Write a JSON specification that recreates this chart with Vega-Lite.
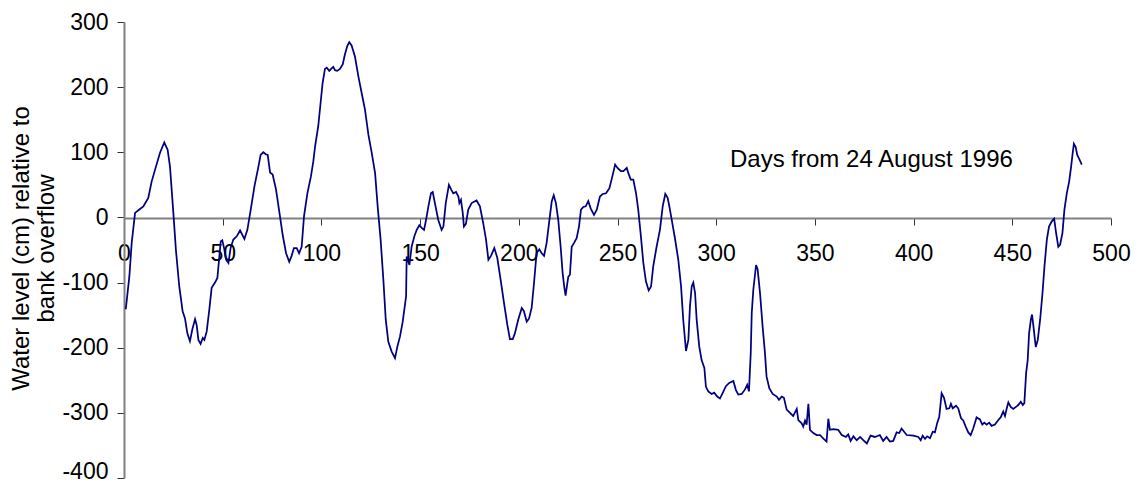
{
  "$schema": "https://vega.github.io/schema/vega-lite/v6.json",
  "width": 987,
  "height": 456,
  "autosize": "none",
  "padding": {"left": 124, "top": 22, "right": 26, "bottom": 7},
  "background": "white",
  "config": {"view": {"stroke": null}, "font": "Liberation Sans"},
  "layer": [
    {
      "data": {"values": [
        {"day":0.9,"level":-141},{"day":2.7,"level":-91},{"day":3.9,"level":-39},{"day":5.6,"level":7},{"day":8.1,"level":13},{"day":9.8,"level":17},{"day":12.3,"level":30},{"day":14,"level":55},{"day":15.7,"level":73},{"day":18.2,"level":99},{"day":20.4,"level":115},{"day":22.1,"level":104},{"day":23.3,"level":78},{"day":25,"level":7},{"day":26.3,"level":-50},{"day":28,"level":-106},{"day":29.7,"level":-144},{"day":30.9,"level":-155},{"day":32.1,"level":-178},{"day":33.4,"level":-190},{"day":34.6,"level":-172},{"day":36,"level":-156},{"day":36.8,"level":-165},{"day":37.7,"level":-188},{"day":38.8,"level":-194},{"day":39.9,"level":-185},{"day":40.7,"level":-188},{"day":41.9,"level":-175},{"day":43.2,"level":-142},{"day":44.4,"level":-108},{"day":46.1,"level":-100},{"day":47.3,"level":-93},{"day":48.3,"level":-60},{"day":49,"level":-37},{"day":49.8,"level":-35},{"day":50.7,"level":-47},{"day":51.7,"level":-65},{"day":52.9,"level":-70},{"day":54,"level":-47},{"day":55.4,"level":-34},{"day":57.1,"level":-29},{"day":58.8,"level":-20},{"day":61,"level":-33},{"day":62.5,"level":-19},{"day":64.2,"level":12},{"day":66.1,"level":48},{"day":68.1,"level":78},{"day":69.2,"level":96},{"day":70.6,"level":100},{"day":71.8,"level":97},{"day":72.8,"level":96},{"day":74,"level":69},{"day":75.3,"level":66},{"day":77,"level":43},{"day":79,"level":2},{"day":80.4,"level":-27},{"day":82.1,"level":-55},{"day":83.7,"level":-68},{"day":84.9,"level":-59},{"day":86.1,"level":-47},{"day":87.5,"level":-47},{"day":88.7,"level":-55},{"day":90,"level":-45},{"day":91.2,"level":2},{"day":92.9,"level":37},{"day":94.7,"level":63},{"day":95.9,"level":86},{"day":96.8,"level":109},{"day":98.4,"level":140},{"day":99.6,"level":176},{"day":100.6,"level":206},{"day":101.8,"level":228},{"day":102.7,"level":230},{"day":104,"level":225},{"day":104.9,"level":228},{"day":106,"level":231},{"day":106.9,"level":226},{"day":108,"level":225},{"day":109.4,"level":228},{"day":110.8,"level":235},{"day":111.9,"level":250},{"day":113.1,"level":263},{"day":114.1,"level":269},{"day":115.3,"level":264},{"day":117,"level":247},{"day":118.7,"level":217},{"day":120.4,"level":191},{"day":122.1,"level":165},{"day":123.8,"level":127},{"day":125.5,"level":99},{"day":127.2,"level":68},{"day":128.5,"level":17},{"day":130,"level":-34},{"day":131.4,"level":-96},{"day":132.6,"level":-157},{"day":133.9,"level":-191},{"day":135.6,"level":-206},{"day":137.3,"level":-216},{"day":138.5,"level":-198},{"day":139.8,"level":-183},{"day":141.2,"level":-160},{"day":142.9,"level":-121},{"day":143.2,"level":-60},{"day":144.6,"level":-73},{"day":145.7,"level":-45},{"day":147.1,"level":-29},{"day":148.3,"level":-19},{"day":149.6,"level":-12},{"day":150.8,"level":-16},{"day":152,"level":-19},{"day":153,"level":-4},{"day":154.2,"level":17},{"day":155.5,"level":37},{"day":156.4,"level":39},{"day":157.5,"level":22},{"day":159.2,"level":-4},{"day":160.9,"level":-19},{"day":161.8,"level":-14},{"day":163,"level":22},{"day":164.6,"level":50},{"day":165.7,"level":43},{"day":166.8,"level":37},{"day":168.2,"level":39},{"day":169.4,"level":32},{"day":169.9,"level":22},{"day":170.7,"level":27},{"day":171.6,"level":7},{"day":172.2,"level":-14},{"day":173.2,"level":-10},{"day":174.4,"level":12},{"day":176.1,"level":22},{"day":178.6,"level":26},{"day":180.3,"level":17},{"day":182,"level":-9},{"day":183.4,"level":-34},{"day":184.6,"level":-65},{"day":185.9,"level":-59},{"day":187.6,"level":-47},{"day":189.1,"level":-62},{"day":190.8,"level":-96},{"day":192.5,"level":-131},{"day":194.2,"level":-165},{"day":195.5,"level":-187},{"day":196.9,"level":-187},{"day":198,"level":-178},{"day":199.7,"level":-157},{"day":201.5,"level":-139},{"day":202.6,"level":-144},{"day":204,"level":-160},{"day":205.2,"level":-155},{"day":206.5,"level":-139},{"day":207.7,"level":-101},{"day":209,"level":-55},{"day":210.4,"level":-49},{"day":211.6,"level":-55},{"day":212.8,"level":-59},{"day":214.1,"level":-39},{"day":215.5,"level":-4},{"day":216.7,"level":25},{"day":217.7,"level":34},{"day":218.8,"level":22},{"day":220,"level":-4},{"day":221.2,"level":-45},{"day":222.2,"level":-85},{"day":223,"level":-106},{"day":223.7,"level":-120},{"day":224.6,"level":-101},{"day":225.1,"level":-91},{"day":225.9,"level":-88},{"day":226.8,"level":-45},{"day":228,"level":-39},{"day":229.3,"level":-32},{"day":230.5,"level":-14},{"day":231.5,"level":12},{"day":232.7,"level":16},{"day":233.9,"level":17},{"day":235.2,"level":25},{"day":236.4,"level":14},{"day":238.1,"level":4},{"day":239.5,"level":12},{"day":241.1,"level":32},{"day":242.5,"level":36},{"day":244.2,"level":37},{"day":245.9,"level":45},{"day":247.4,"level":63},{"day":248.8,"level":81},{"day":250,"level":76},{"day":251.7,"level":71},{"day":253,"level":71},{"day":254.7,"level":76},{"day":255.5,"level":68},{"day":256.7,"level":58},{"day":258,"level":58},{"day":259.4,"level":37},{"day":260.5,"level":12},{"day":261.7,"level":-24},{"day":263.1,"level":-70},{"day":264.4,"level":-98},{"day":265.8,"level":-112},{"day":267,"level":-106},{"day":268.1,"level":-75},{"day":269.8,"level":-45},{"day":271.5,"level":-19},{"day":272.9,"level":17},{"day":274.2,"level":36},{"day":275.4,"level":30},{"day":276.2,"level":18},{"day":277.5,"level":-4},{"day":279.1,"level":-32},{"day":280.8,"level":-65},{"day":282.2,"level":-106},{"day":283.3,"level":-157},{"day":284.7,"level":-205},{"day":285.9,"level":-188},{"day":286.7,"level":-137},{"day":287.6,"level":-106},{"day":288.4,"level":-100},{"day":289.3,"level":-116},{"day":290.1,"level":-157},{"day":291.4,"level":-198},{"day":292.6,"level":-219},{"day":294,"level":-231},{"day":294.8,"level":-260},{"day":296,"level":-267},{"day":297.7,"level":-271},{"day":299,"level":-269},{"day":300.5,"level":-275},{"day":301.9,"level":-278},{"day":303.2,"level":-270},{"day":304.9,"level":-259},{"day":306.6,"level":-254},{"day":308.7,"level":-251},{"day":310,"level":-265},{"day":311.2,"level":-272},{"day":312.9,"level":-271},{"day":314.6,"level":-264},{"day":315.7,"level":-257},{"day":316.6,"level":-267},{"day":317.5,"level":-208},{"day":318,"level":-147},{"day":318.8,"level":-111},{"day":320.2,"level":-73},{"day":321,"level":-80},{"day":322.2,"level":-116},{"day":323.5,"level":-167},{"day":324.7,"level":-208},{"day":325.5,"level":-244},{"day":326.9,"level":-262},{"day":328.6,"level":-271},{"day":330.7,"level":-275},{"day":331.8,"level":-280},{"day":333.2,"level":-275},{"day":334.3,"level":-277},{"day":335.7,"level":-295},{"day":337.4,"level":-300},{"day":339,"level":-305},{"day":340.8,"level":-294},{"day":341.6,"level":-311},{"day":343.3,"level":-316},{"day":344.1,"level":-321},{"day":345,"level":-312},{"day":345.8,"level":-318},{"day":346.7,"level":-286},{"day":347.5,"level":-326},{"day":349.2,"level":-331},{"day":350.9,"level":-334},{"day":352.6,"level":-334},{"day":354.2,"level":-339},{"day":355.9,"level":-344},{"day":356.8,"level":-309},{"day":357.6,"level":-326},{"day":359.3,"level":-325},{"day":361.8,"level":-326},{"day":363.6,"level":-334},{"day":365.7,"level":-337},{"day":366.9,"level":-333},{"day":368.1,"level":-343},{"day":369.5,"level":-336},{"day":371.2,"level":-342},{"day":372.9,"level":-337},{"day":374.5,"level":-342},{"day":376.3,"level":-347},{"day":378.2,"level":-335},{"day":380.4,"level":-337},{"day":382.9,"level":-334},{"day":384.6,"level":-343},{"day":386.3,"level":-337},{"day":388,"level":-344},{"day":389.7,"level":-343},{"day":391.4,"level":-330},{"day":392.7,"level":-331},{"day":393.9,"level":-324},{"day":396.5,"level":-334},{"day":399.9,"level":-335},{"day":402.4,"level":-337},{"day":403.6,"level":-342},{"day":404.6,"level":-335},{"day":405.8,"level":-340},{"day":406.9,"level":-336},{"day":408.3,"level":-339},{"day":409.7,"level":-329},{"day":410.8,"level":-330},{"day":412,"level":-315},{"day":413,"level":-306},{"day":414.2,"level":-270},{"day":415.4,"level":-277},{"day":416.7,"level":-294},{"day":418.1,"level":-293},{"day":418.9,"level":-286},{"day":419.8,"level":-293},{"day":421.5,"level":-289},{"day":422.6,"level":-293},{"day":424,"level":-308},{"day":425.2,"level":-312},{"day":426.4,"level":-321},{"day":427.7,"level":-330},{"day":428.9,"level":-334},{"day":430.2,"level":-324},{"day":431.9,"level":-307},{"day":433.6,"level":-310},{"day":434.8,"level":-318},{"day":435.8,"level":-315},{"day":437,"level":-318},{"day":438.3,"level":-315},{"day":439.5,"level":-320},{"day":441.2,"level":-318},{"day":442.9,"level":-311},{"day":444.1,"level":-307},{"day":445.4,"level":-298},{"day":446.3,"level":-305},{"day":447.2,"level":-293},{"day":448,"level":-284},{"day":449.2,"level":-291},{"day":450.5,"level":-294},{"day":452.2,"level":-290},{"day":453,"level":-288},{"day":454.3,"level":-283},{"day":455.3,"level":-288},{"day":456.1,"level":-285},{"day":457,"level":-239},{"day":457.8,"level":-219},{"day":458.5,"level":-178},{"day":459.4,"level":-157},{"day":460,"level":-149},{"day":460.7,"level":-167},{"day":461.9,"level":-199},{"day":462.9,"level":-188},{"day":464.1,"level":-157},{"day":465.3,"level":-116},{"day":466.3,"level":-75},{"day":467.5,"level":-34},{"day":468.6,"level":-14},{"day":470,"level":-6},{"day":471.2,"level":-2},{"day":472.2,"level":-24},{"day":473.3,"level":-45},{"day":474.2,"level":-42},{"day":475.4,"level":-24},{"day":476.4,"level":12},{"day":477.6,"level":37},{"day":478.8,"level":55},{"day":479.8,"level":78},{"day":480.6,"level":99},{"day":481.2,"level":113},{"day":482.1,"level":108},{"day":482.9,"level":96},{"day":484,"level":89},{"day":485.2,"level":81}
      ]},
      "mark": {"type": "line", "color": "#000080", "strokeWidth": 1.75},
      "encoding": {
        "x": {
          "field": "day", "type": "quantitative",
          "scale": {"domain": [0, 500], "nice": false, "zero": false},
          "axis": {
            "title": null, "orient": "bottom", "offset": -260,
            "values": [0, 50, 100, 150, 200, 250, 300, 350, 400, 450, 500],
            "grid": false, "domainColor": "#808080", "domainWidth": 2,
            "tickColor": "#333333", "tickSize": 7, "tickWidth": 1,
            "labelFontSize": 23, "labelColor": "black", "labelPadding": 17,
            "labelFlush": false, "labelOverlap": false, "labelBound": false
          }
        },
        "y": {
          "field": "level", "type": "quantitative",
          "scale": {"domain": [-400, 300], "nice": false, "zero": false},
          "axis": {
            "title": ["Water level (cm) relative to", "bank overflow"],
            "titleFontSize": 24, "titleFontWeight": "normal", "titleColor": "black",
            "titleLineHeight": 25, "titleAngle": -90, "titleAlign": "center",
            "titleBaseline": "middle", "titleX": -103, "titleY": 226,
            "values": [-400, -300, -200, -100, 0, 100, 200, 300],
            "labelExpr": "'' + datum.value",
            "labelOffset": {"expr": "datum.value == -400 ? -7 : 0"},
            "grid": false, "domainColor": "#808080", "domainWidth": 2,
            "tickColor": "#333333", "tickSize": 7, "tickWidth": 1,
            "labelFontSize": 23, "labelColor": "black", "labelPadding": 9,
            "labelFlush": false, "labelOverlap": false, "labelBound": false
          }
        }
      }
    },
    {
      "data": {"values": [{"day": 307, "level": 78, "label": "Days from 24 August 1996"}]},
      "mark": {"type": "text", "align": "left", "baseline": "alphabetic", "fontSize": 24, "color": "black"},
      "encoding": {
        "x": {"field": "day", "type": "quantitative"},
        "y": {"field": "level", "type": "quantitative"},
        "text": {"field": "label"}
      }
    }
  ]
}
